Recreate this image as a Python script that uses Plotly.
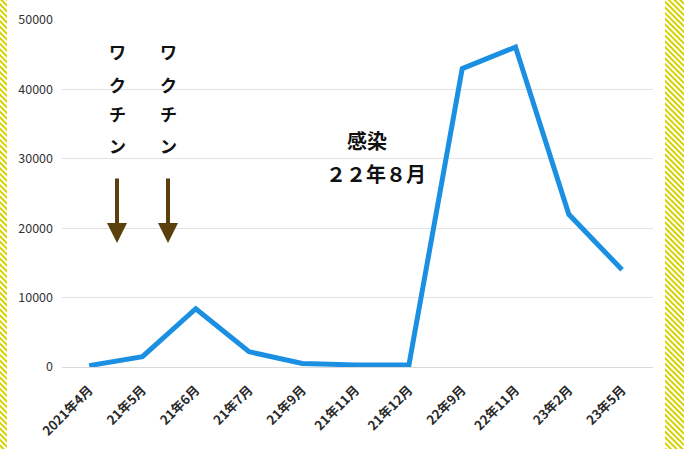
import base64
import plotly.graph_objects as go

# ---- data ----
categories = ["2021年4月", "21年5月", "21年6月", "21年7月", "21年9月", "21年11月",
              "21年12月", "22年9月", "22年11月", "23年2月", "23年5月"]
values = [200, 1500, 8400, 2200, 500, 300, 300, 43000, 46100, 22000, 14000]
y_ticks = [0, 10000, 20000, 30000, 40000, 50000]

W, H = 684, 449
L, R, T, B = 62, 31, 20, 82
PW, PH = W - L - R, H - T - B

def px(x):
    return (x - L) / PW

def py(y):
    return (H - B - y) / PH

FONT = "Noto Sans CJK JP"

fig = go.Figure()
fig.add_trace(go.Scatter(
    x=categories, y=values, mode="lines",
    line=dict(color="#1b8fe2", width=5),
    hoverinfo="skip", showlegend=False,
))

# hatched side borders as an inline SVG image
svg = f'''<svg xmlns="http://www.w3.org/2000/svg" width="{W}" height="{H}">
<defs><pattern id="p" width="4" height="4" patternUnits="userSpaceOnUse" patternTransform="rotate(-45)">
<rect width="4" height="4" fill="#ffffff"/><rect width="2" height="4" fill="#d6d200"/></pattern></defs>
<rect x="0" y="0" width="7" height="{H}" fill="url(#p)"/>
<rect x="665" y="0" width="{W-665}" height="{H}" fill="url(#p)"/>
</svg>'''
src = "data:image/svg+xml;base64," + base64.b64encode(svg.encode()).decode()
fig.add_layout_image(dict(source=src, xref="paper", yref="paper",
                          x=-L / PW, y=1 + T / PH, sizex=W / PW, sizey=H / PH,
                          xanchor="left", yanchor="top", sizing="stretch", layer="below"))

annotations = []
# vertical katakana labels
kata_y = {"ワ": 52, "ク": 84, "チ": 114, "ン": 145}
for cx in (117, 168):
    for ch, cy in kata_y.items():
        annotations.append(dict(text=ch, x=px(cx), y=py(cy), xref="paper", yref="paper",
                                xanchor="center", yanchor="middle",
                                showarrow=False, borderpad=0,
                                font=dict(family=FONT, size=17, color="#111111", weight="bold")))
    annotations.append(dict(text="", x=px(cx), y=py(243), xref="paper", yref="paper",
                            showarrow=True, ax=0, ay=-66, arrowcolor="#5b3f0c",
                            arrowwidth=4, arrowhead=2, arrowsize=1))
annotations.append(dict(text="感染", x=px(367), y=py(140), xref="paper", yref="paper",
                        showarrow=False, font=dict(family=FONT, size=20, color="#111111", weight="bold")))
annotations.append(dict(text="２２年８月", x=px(376), y=py(173), xref="paper", yref="paper",
                        showarrow=False, font=dict(family=FONT, size=20, color="#111111", weight="bold")))

fig.update_layout(
    width=W, height=H,
    margin=dict(l=L, r=R, t=T, b=B, pad=0, autoexpand=False),
    paper_bgcolor="rgba(0,0,0,0)", plot_bgcolor="rgba(0,0,0,0)",
    annotations=annotations,
    xaxis=dict(type="category", range=[-0.51, 10.58], showgrid=False, showline=False,
               automargin=False,
               ticks="", tickangle=-45, ticklabelstandoff=12,
               tickfont=dict(family=FONT, size=13, color="#2a2a2a", weight="bold")),
    yaxis=dict(range=[0, 50000], tickvals=y_ticks, ticktext=[str(v) for v in y_ticks],
               automargin=False,
               showgrid=True, gridcolor="#e3e3e3", gridwidth=1, zeroline=True,
               zerolinecolor="#d9d9d9", zerolinewidth=1, showline=False, ticks="",
               ticklabelstandoff=8,
               tickfont=dict(family=FONT, size=12.5, color="#333333")),
)
fig.write_html("out.html", config={"displayModeBar": False},
               post_script="document.body.style.margin='0px';")
